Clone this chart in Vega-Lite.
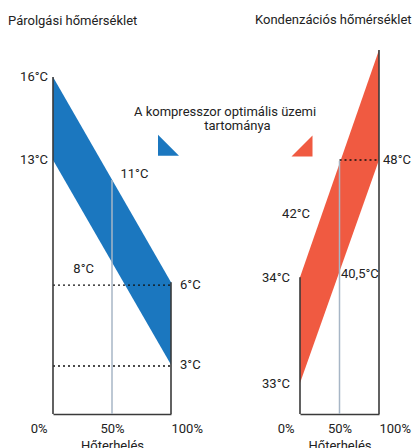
{
  "$schema": "https://vega.github.io/schema/vega-lite/v6.json",
  "background": "white",
  "padding": {"left": 8, "top": 14, "right": 0, "bottom": 0},
  "bounds": "flush",
  "spacing": 129,
  "config": {
    "font": "Roboto",
    "view": {"stroke": null},
    "text": {"font": "Roboto", "fontSize": 13, "color": "#222222", "baseline": "middle"}
  },
  "datasets": {
    "evap_band": [
      {"load": 0, "level": 92.6, "level2": 69.8, "series": "Párolgás"},
      {"load": 100, "level": 36.2, "level2": 13.5, "series": "Párolgás"}
    ],
    "evap_vlines": [
      {"load": 0, "level": 0, "level2": 92.6, "kind": "frame"},
      {"load": 100, "level": 0, "level2": 36.2, "kind": "frame"},
      {"load": 50, "level": 0, "level2": 64.3, "kind": "mid"}
    ],
    "evap_hlines": [
      {"load": 0, "load2": 100, "level": 35.4},
      {"load": 0, "load2": 100, "level": 13.2}
    ],
    "evap_labels": [
      {"text": "16°C", "load": -4.2, "level": 92.6, "side": "right"},
      {"text": "13°C", "load": -4.2, "level": 69.8, "side": "right"},
      {"text": "8°C", "load": 34.7, "level": 39.8, "side": "right"},
      {"text": "11°C", "load": 57.2, "level": 65.9, "side": "left"},
      {"text": "6°C", "load": 107.6, "level": 35.4, "side": "left"},
      {"text": "3°C", "load": 107.6, "level": 13.5, "side": "left"}
    ],
    "legend_text": [
      {"text": "A kompresszor optimális üzemi", "load": 145.8, "level": 83.0},
      {"text": "tartománya", "load": 156.3, "level": 79.1}
    ],
    "legend_symbols": [
      {"series": "Párolgás", "load": 97.9, "level": 73.8},
      {"series": "Kondenzáció", "load": 211.0, "level": 73.6}
    ],
    "cond_band": [
      {"load": 0, "level": 37.6, "level2": 8.5, "series": "Kondenzáció"},
      {"load": 100, "level": 100, "level2": 69.8, "series": "Kondenzáció"}
    ],
    "cond_vlines": [
      {"load": 0, "level": 0, "level2": 37.6, "kind": "frame"},
      {"load": 100, "level": 0, "level2": 100, "kind": "frame"},
      {"load": 50, "level": 0, "level2": 69.5, "kind": "mid"}
    ],
    "cond_hlines": [
      {"load": 50, "load2": 100, "level": 69.8}
    ],
    "cond_labels": [
      {"text": "42°C", "load": 12.7, "level": 54.9, "side": "right"},
      {"text": "34°C", "load": -12.7, "level": 37.4, "side": "right"},
      {"text": "33°C", "load": -12.7, "level": 8.2, "side": "right"},
      {"text": "48°C", "load": 105.1, "level": 69.8, "side": "left"},
      {"text": "40,5°C", "load": 51.9, "level": 38.5, "side": "left"}
    ]
  },
  "hconcat": [
    {
      "width": 118,
      "height": 364,
      "title": {"text": "Párolgási hőmérséklet", "anchor": "start", "frame": "group", "dx": -45, "fontSize": 13, "fontWeight": "normal", "baseline": "alphabetic", "offset": 12, "color": "#222222", "font": "Roboto"},
      "encoding": {
        "x": {
          "field": "load", "type": "quantitative",
          "scale": {"domain": [0, 100], "nice": false, "zero": false},
          "axis": {
            "title": "Hőterhelés", "values": [0, 50, 100], "labelExpr": "datum.value + '%'",
            "grid": false, "ticks": false, "tickSize": 0, "domain": true, "domainColor": "#3a3a3a", "domainWidth": 1.6,
            "labelFont": "Roboto", "labelFontSize": 13, "labelColor": "#222222", "labelPadding": 8,
            "labelFlush": false, "labelOverlap": false,
            "labelAlign": {"condition": [{"test": "datum.value === 0", "value": "right"}, {"test": "datum.value === 100", "value": "left"}], "value": "center"},
            "labelOffset": {"condition": {"test": "datum.value === 0", "value": -6}, "value": 0},
            "titleFont": "Roboto", "titleFontSize": 13, "titleFontWeight": "normal", "titleColor": "#222222", "titlePadding": 4
          }
        },
        "y": {"field": "level", "type": "quantitative", "scale": {"domain": [0, 100], "nice": false, "zero": false}, "axis": null}
      },
      "layer": [
        {
          "data": {"name": "evap_band"},
          "mark": {"type": "area", "opacity": 1},
          "encoding": {
            "y2": {"field": "level2"},
            "color": {"field": "series", "type": "nominal", "scale": {"domain": ["Párolgás", "Kondenzáció"], "range": ["#1b77bf", "#f05a41"]}, "legend": null}
          }
        },
        {
          "data": {"name": "evap_vlines"},
          "transform": [{"filter": "datum.kind === 'mid'"}],
          "mark": {"type": "rule", "color": "#a7b6c6", "strokeWidth": 1.5},
          "encoding": {"y2": {"field": "level2"}}
        },
        {
          "data": {"name": "evap_hlines"},
          "mark": {"type": "rule", "color": "#111111", "strokeWidth": 1.4, "strokeDash": [2, 3]},
          "encoding": {"x2": {"field": "load2"}}
        },
        {
          "data": {"name": "evap_vlines"},
          "transform": [{"filter": "datum.kind === 'frame'"}],
          "mark": {"type": "rule", "color": "#3a3a3a", "strokeWidth": 1.6},
          "encoding": {"y2": {"field": "level2"}}
        },
        {
          "data": {"name": "evap_labels"},
          "transform": [{"filter": "datum.side === 'right'"}],
          "mark": {"type": "text", "align": "right"},
          "encoding": {"text": {"field": "text"}}
        },
        {
          "data": {"name": "evap_labels"},
          "transform": [{"filter": "datum.side === 'left'"}],
          "mark": {"type": "text", "align": "left"},
          "encoding": {"text": {"field": "text"}}
        },
        {
          "data": {"name": "legend_text"},
          "mark": {"type": "text", "align": "center"},
          "encoding": {"text": {"field": "text"}}
        },
        {
          "data": {"name": "legend_symbols"},
          "mark": {"type": "point", "filled": true, "opacity": 1, "size": 441, "strokeWidth": 0},
          "encoding": {
            "color": {"field": "series", "type": "nominal", "legend": null},
            "shape": {"field": "series", "type": "nominal", "scale": {"domain": ["Párolgás", "Kondenzáció"], "range": ["M -1 -1 L -1 1 L 1 1 Z", "M 1 -1 L 1 1 L -1 1 Z"]}, "legend": null}
          }
        }
      ]
    },
    {
      "width": 79,
      "height": 364,
      "title": {"text": "Kondenzációs hőmérséklet", "anchor": "start", "frame": "group", "dx": -45, "fontSize": 13, "fontWeight": "normal", "baseline": "alphabetic", "offset": 12, "color": "#222222", "font": "Roboto"},
      "encoding": {
        "x": {
          "field": "load", "type": "quantitative",
          "scale": {"domain": [0, 100], "nice": false, "zero": false},
          "axis": {
            "title": "Hőterhelés", "values": [0, 50, 100], "labelExpr": "datum.value + '%'",
            "grid": false, "ticks": false, "tickSize": 0, "domain": true, "domainColor": "#3a3a3a", "domainWidth": 1.6,
            "labelFont": "Roboto", "labelFontSize": 13, "labelColor": "#222222", "labelPadding": 8,
            "labelFlush": false, "labelOverlap": false,
            "labelAlign": {"condition": [{"test": "datum.value === 0", "value": "right"}, {"test": "datum.value === 100", "value": "left"}], "value": "center"},
            "labelOffset": {"condition": {"test": "datum.value === 0", "value": -6}, "value": 0},
            "titleFont": "Roboto", "titleFontSize": 13, "titleFontWeight": "normal", "titleColor": "#222222", "titlePadding": 4
          }
        },
        "y": {"field": "level", "type": "quantitative", "scale": {"domain": [0, 100], "nice": false, "zero": false}, "axis": null}
      },
      "layer": [
        {
          "data": {"name": "cond_band"},
          "mark": {"type": "area", "opacity": 1},
          "encoding": {
            "y2": {"field": "level2"},
            "color": {"field": "series", "type": "nominal", "legend": null}
          }
        },
        {
          "data": {"name": "cond_vlines"},
          "transform": [{"filter": "datum.kind === 'mid'"}],
          "mark": {"type": "rule", "color": "#a7b6c6", "strokeWidth": 1.5},
          "encoding": {"y2": {"field": "level2"}}
        },
        {
          "data": {"name": "cond_hlines"},
          "mark": {"type": "rule", "color": "#111111", "strokeWidth": 1.4, "strokeDash": [2, 3]},
          "encoding": {"x2": {"field": "load2"}}
        },
        {
          "data": {"name": "cond_vlines"},
          "transform": [{"filter": "datum.kind === 'frame'"}],
          "mark": {"type": "rule", "color": "#3a3a3a", "strokeWidth": 1.6},
          "encoding": {"y2": {"field": "level2"}}
        },
        {
          "data": {"name": "cond_labels"},
          "transform": [{"filter": "datum.side === 'right'"}],
          "mark": {"type": "text", "align": "right"},
          "encoding": {"text": {"field": "text"}}
        },
        {
          "data": {"name": "cond_labels"},
          "transform": [{"filter": "datum.side === 'left'"}],
          "mark": {"type": "text", "align": "left"},
          "encoding": {"text": {"field": "text"}}
        }
      ]
    }
  ]
}
